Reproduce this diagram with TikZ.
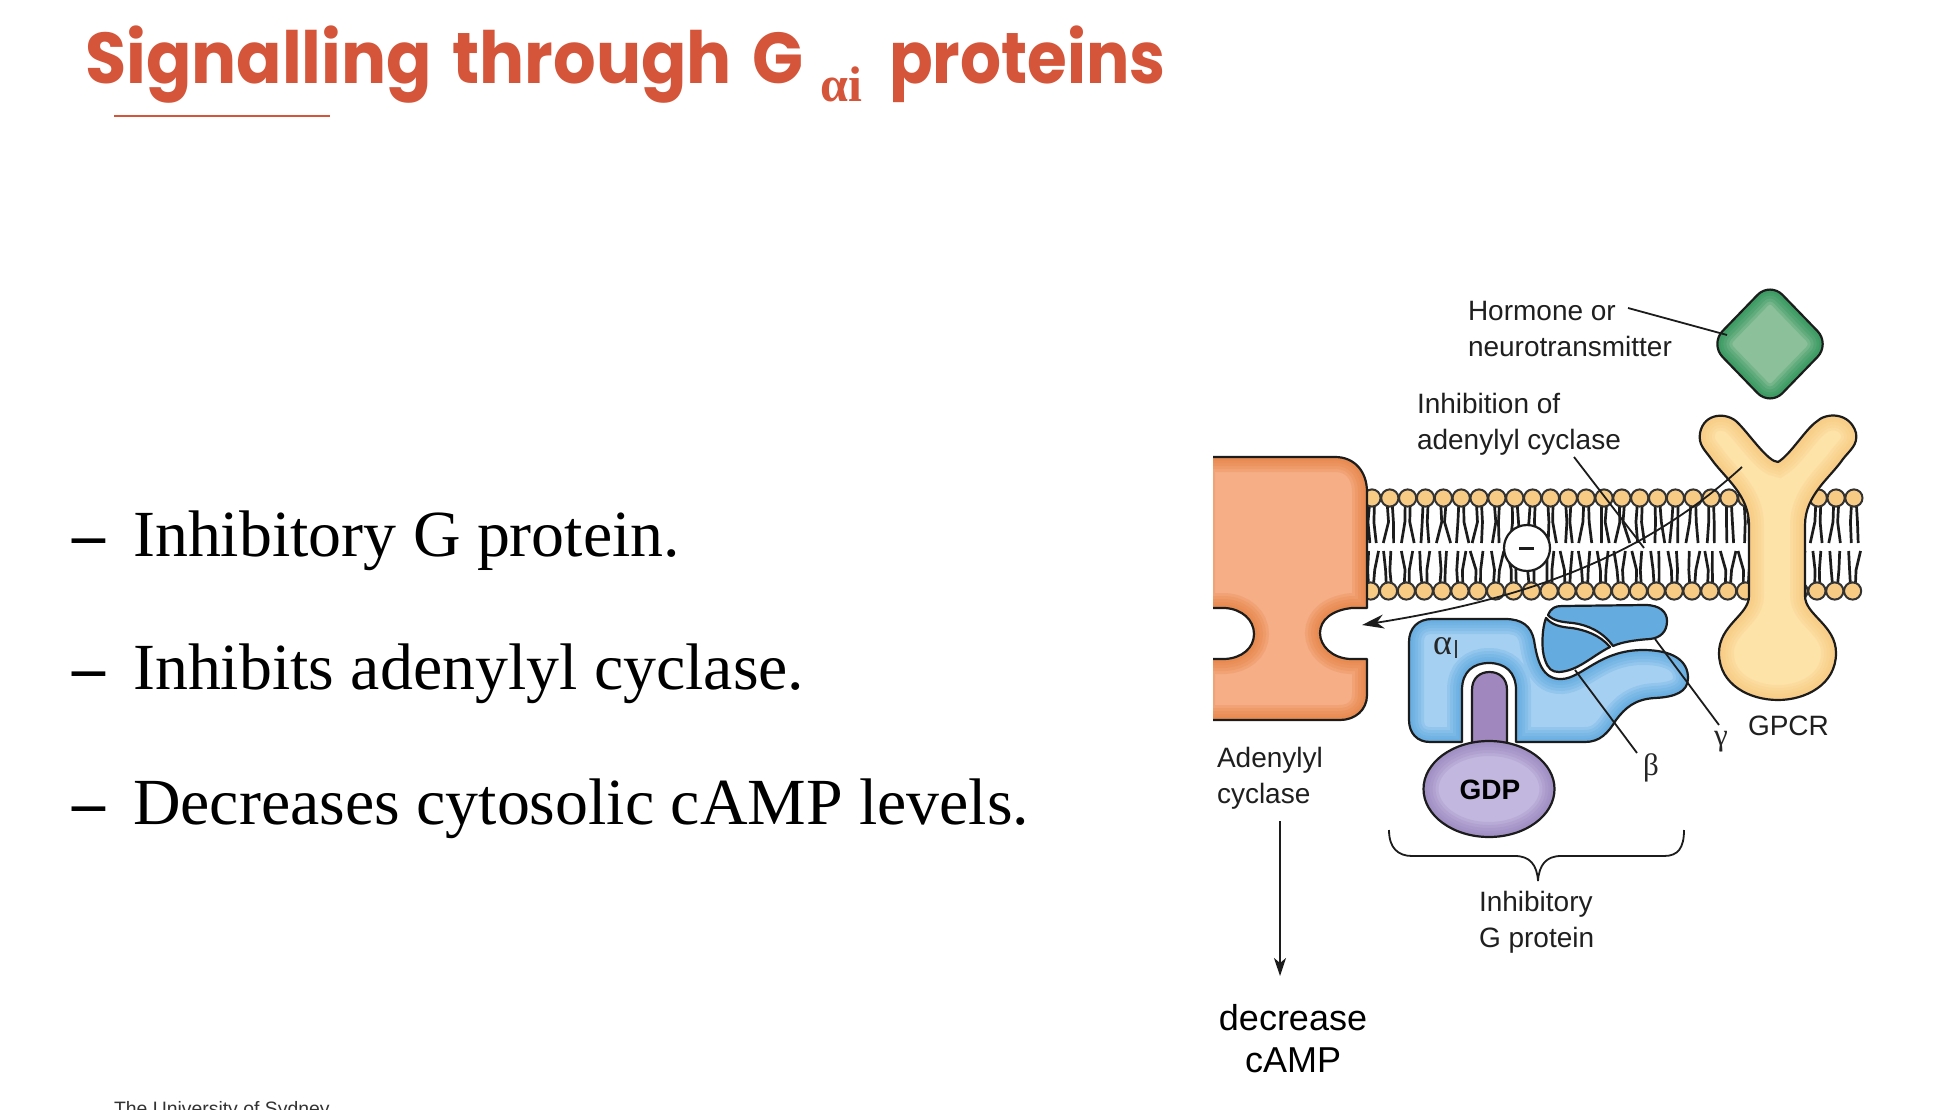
\documentclass[tikz,border=0pt]{standalone}
\usepackage{fontspec}
\usetikzlibrary{arrows.meta}
\setmainfont{Liberation Sans}
\newfontfamily\serifgr{Liberation Serif}
\newfontfamily\titlefont[WordSpace=1.45]{Poppins}
\definecolor{titlered}{HTML}{D5553A}
\definecolor{outl}{HTML}{1C1C1C}
\definecolor{headc}{HTML}{F8CB85}
\definecolor{acl}{HTML}{F5AE85}
\definecolor{acd}{HTML}{E57F3F}
\definecolor{gpl}{HTML}{FDE3A8}
\definecolor{gpd}{HTML}{F8C67C}
\definecolor{hol}{HTML}{8CC09A}
\definecolor{hod}{HTML}{1F8F50}
\definecolor{bll}{HTML}{A5D0F2}
\definecolor{bld}{HTML}{55A3DC}
\definecolor{bmid}{HTML}{64ABE0}
\definecolor{pul}{HTML}{C2B7DE}
\definecolor{pud}{HTML}{9682BC}
\definecolor{pustem}{HTML}{A088BF}
\tikzset{
  outline/.style={draw=outl,line width=2.2pt,line join=round},
  leader/.style={draw=outl,line width=1.8pt},
  tail/.style={draw=outl,line width=2.7pt},
  txt/.style={inner sep=0pt,outer sep=0pt,anchor=base west,text=black!88},
  lab/.style={txt,font=\fontsize{28}{36}\selectfont,align=left},
  greek/.style={inner sep=0pt,anchor=center,text=black!85,font=\serifgr\fontsize{31}{31}\selectfont},
  bullet/.style={inner sep=0pt,anchor=base west,text=black,font=\serifgr\fontsize{65.85}{70}\selectfont},
  arrowtip/.style={-{Stealth[length=22pt,width=14pt,inset=7pt]}},
  arrowtipb/.style={-{Stealth[length=18pt,width=12pt,inset=5pt]}},
}
\newcommand{\glowshape}[3]{%
  \begin{scope}
    \clip #1;
    \fill[#2] (1000,200) rectangle (1950,1000);
    \foreach \w in {30,24,18,12,7}{\draw[#3,line width=\w pt,opacity=.22] #1;}
  \end{scope}
  \draw[outline] #1;
}
\begin{document}
\begin{tikzpicture}[x=1pt,y=-1pt]
\useasboundingbox (0,0) rectangle (1950,1110);
\fill[white] (0,0) rectangle (1950,1110);
\begin{scope}
\clip (0,0) rectangle (1950,1110);
% title
\node[inner sep=0pt,anchor=base west,text=titlered] (t1) at (85,84) {\scalebox{0.93}[1]{\titlefont\bfseries\fontsize{72}{80}\selectfont Signalling through G}};
\node[inner sep=0pt,anchor=base west,text=titlered] (t2) at (820,102) {\serifgr\bfseries\fontsize{50}{50}\selectfont αi};
\node[inner sep=0pt,anchor=base west,text=titlered] (t3) at (889,84) {\scalebox{0.894}[1]{\titlefont\bfseries\fontsize{72}{80}\selectfont proteins}};
\fill[titlered] (114,115) rectangle (330,117);
% bullets
\node[bullet,font=\serifgr\bfseries\fontsize{65.7}{70}\selectfont] (b1) at (72,556) {–};
\node[bullet] (b1t) at (133,556) {Inhibitory G protein.};
\node[bullet,font=\serifgr\bfseries\fontsize{65.7}{70}\selectfont] (b2) at (72,689) {–};
\node[bullet] (b2t) at (133,689) {Inhibits adenylyl cyclase.};
\node[bullet,font=\serifgr\bfseries\fontsize{65.7}{70}\selectfont] (b3) at (72,824) {–};
\node[bullet] (b3t) at (133,824) {Decreases cytosolic cAMP levels.};
% footer
\node[txt,text=black!80,font=\fontsize{19.4}{20}\selectfont] (foot) at (114,1115) {The University of Sydney};
% lipids: tails
\pgfmathsetseed{23}
\foreach \k in {-11,...,16}{
  \pgfmathsetmacro{\xa}{1568.3+17.85*\k}
  \pgfmathsetmacro{\ra}{rnd*6} \pgfmathsetmacro{\rb}{rnd*6}
  \pgfmathsetmacro{\rc}{(rand)*1.5} \pgfmathsetmacro{\rd}{(rand)*1.5}
  \draw[tail] (\xa-2.5,505) -- (\xa-2.5+\rc,522) -- (\xa-2-\ra,543);
  \draw[tail] (\xa+2.5,505) -- (\xa+2.5+\rd,522) -- (\xa+2+\rb,543);
  \pgfmathsetmacro{\ra}{rnd*6} \pgfmathsetmacro{\rb}{rnd*6}
  \pgfmathsetmacro{\rc}{(rand)*1.5} \pgfmathsetmacro{\rd}{(rand)*1.5}
  \draw[tail] (\xa-3.5,585) -- (\xa-3.5+\rc,570) -- (\xa-3-\ra,551);
  \draw[tail] (\xa+1.5,585) -- (\xa+1.5+\rd,570) -- (\xa+1+\rb,551);
}
\foreach \k in {-11,...,16}{
  \pgfmathsetmacro{\xa}{1568.3+17.85*\k}
  \pgfmathsetmacro{\xb}{1567+17.85*\k}
  \draw[fill=headc,draw=outl!90,line width=2pt] (\xa,498) circle (8.6);
  \draw[fill=headc,draw=outl!90,line width=2pt] (\xb,591) circle (8.6);
}
% adenylyl cyclase
\begin{scope}
\clip (1213,400) rectangle (1420,760);
\glowshape{(1200,457) -- (1335,457) .. controls (1355,457) and (1367,472) .. (1367,492) -- (1367,608) -- (1352,608) .. controls (1332,610) and (1320,620) .. (1320,633) .. controls (1320,646) and (1332,658) .. (1350,659) -- (1367,659) -- (1367,695) .. controls (1367,710) and (1355,720) .. (1340,720) -- (1200,720) -- (1200,659) -- (1225,659) .. controls (1242,658) and (1254,648) .. (1254,634) .. controls (1254,620) and (1242,609) .. (1225,608) -- (1200,608) -- cycle}{acl}{acd}
\end{scope}
% GPCR
\glowshape{(1778,462) .. controls (1790,455) and (1805,430) .. (1816,422) .. controls (1826,412) and (1850,412) .. (1856,433) .. controls (1858,445) and (1850,450) .. (1843,459) .. controls (1830,478) and (1805,495) .. (1805,525) -- (1805,596) .. controls (1805,615) and (1836,625) .. (1836,653) .. controls (1836,685) and (1805,700) .. (1778,700) .. controls (1750,700) and (1719,685) .. (1719,653) .. controls (1719,625) and (1749,615) .. (1749,596) -- (1749,525) .. controls (1749,495) and (1725,478) .. (1712,460) .. controls (1705,450) and (1698,445) .. (1700,433) .. controls (1704,412) and (1728,412) .. (1738,423) .. controls (1750,435) and (1768,462) .. (1778,462) -- cycle}{gpl}{gpd}
% hormone
\glowshape{[rounded corners=18pt] (1770,282) -- (1830,344) -- (1770,406) -- (1710,344) -- cycle}{hol}{hod}
% minus
\node[circle,draw=outl,fill=white,line width=2.2pt,minimum size=46pt,inner sep=0pt] (minus) at (1527,548) {};
\fill[outl] (1519,546.5) rectangle (1534,549.5);
% G alpha
\glowshape{(1462,742) -- (1430,742) .. controls (1417,742) and (1409,733) .. (1409,720) -- (1409,642) .. controls (1409,628) and (1418,619) .. (1432,619) -- (1505,619) .. controls (1522,619) and (1531,626) .. (1534,640) .. controls (1537,660) and (1542,680) .. (1562,679) .. controls (1582,678) and (1600,650) .. (1643,650) .. controls (1672,650) and (1688,660) .. (1688,678) .. controls (1688,692) and (1675,697) .. (1655,698) .. controls (1635,699) and (1625,708) .. (1616,720) .. controls (1608,733) and (1600,742) .. (1585,742) -- (1516,742) -- (1516,690) .. controls (1516,672) and (1505,663) .. (1489,663) .. controls (1473,663) and (1462,672) .. (1462,690) -- cycle}{bll}{bld}
% beta
\glowshape{(1546,618) .. controls (1542,628) and (1541,650) .. (1545,660) .. controls (1548,669) and (1552,672) .. (1559,672) .. controls (1578,671) and (1592,656) .. (1610,647) .. controls (1600,635) and (1585,630) .. (1572,628) .. controls (1560,627) and (1552,625) .. (1546,618) -- cycle}{bmid}{bmid}
% gamma
\glowshape{(1548,615) .. controls (1551,608) and (1555,606) .. (1562,606) -- (1645,605) .. controls (1660,605) and (1667,612) .. (1667,621) .. controls (1667,632) and (1660,638) .. (1650,639) .. controls (1635,640) and (1622,642) .. (1613,646) .. controls (1603,632) and (1588,625) .. (1573,623) .. controls (1562,622) and (1553,621) .. (1548,615) -- cycle}{bmid}{bmid}
% GDP stem and ellipse
\draw[outline,fill=pustem] (1472,750) -- (1472,690) .. controls (1472,678) and (1480,672) .. (1489.5,672) .. controls (1499,672) and (1507,678) .. (1507,690) -- (1507,750);
\glowshape{(1489,789) ellipse [x radius=65.5,y radius=48]}{pul}{pud}
\node[inner sep=0pt,anchor=center,text=black,font=\bfseries\fontsize{28}{28}\selectfont] (gdp) at (1490,790) {GDP};
% labels
\node[lab] (horm) at (1468,320) {Hormone or};
\node[lab] (neuro) at (1468,356) {neurotransmitter};
\node[lab] (inh1) at (1417,413) {Inhibition of};
\node[lab] (inh2) at (1417,449) {adenylyl cyclase};
\node[lab] (ad1) at (1217,767) {Adenylyl};
\node[lab] (ad2) at (1217,803) {cyclase};
\node[lab] (ig1) at (1479,911) {Inhibitory};
\node[lab] (ig2) at (1479,947) {G protein};
\node[lab] (gpcrl) at (1748,735) {GPCR};
\node[txt,text=black,font=\fontsize{36}{40}\selectfont,anchor=base] (dec1) at (1293,1030) {decrease};
\node[txt,text=black,font=\fontsize{36}{40}\selectfont,anchor=base] (dec2) at (1293,1072) {cAMP};
\node[greek,font=\serifgr\fontsize{36}{36}\selectfont,anchor=base west] (alph) at (1433,654) {α};
\fill[black!80] (1455,640) rectangle (1457,658);
\node[greek] (bet) at (1651,768) {β};
\node[greek] (gam) at (1721,742) {γ};
% leaders
\coordinate (h0) at (1628,308);
\coordinate (h1) at (1727,335);
\coordinate (i0) at (1574,457);
\coordinate (i1) at (1644,548);
\coordinate (s0) at (1742,467);
\coordinate (s1) at (1362,625);
\coordinate (be0) at (1575,670);
\coordinate (be1) at (1637,753);
\coordinate (ga0) at (1655,639);
\coordinate (ga1) at (1719,725);
\coordinate (ar0) at (1280,821);
\coordinate (ar1) at (1280,976);
\draw[leader] (h0) -- (h1);
\draw[leader] (i0) -- (i1);
\draw[leader,arrowtip] (s0) .. controls (1640,560) and (1520,600) .. (s1);
\draw[leader] (be0) -- (be1);
\draw[leader] (ga0) -- (ga1);
\draw[leader,arrowtipb] (ar0) -- (ar1);
% brace
\draw[leader] (1389,830) .. controls (1389,848) and (1398,856) .. (1412,856) -- (1515,856) .. controls (1530,856) and (1537,865) .. (1538,881) .. controls (1539,865) and (1546,856) .. (1561,856) -- (1664,856) .. controls (1678,856) and (1684,848) .. (1684,830);
\end{scope}
\end{tikzpicture}
\end{document}
